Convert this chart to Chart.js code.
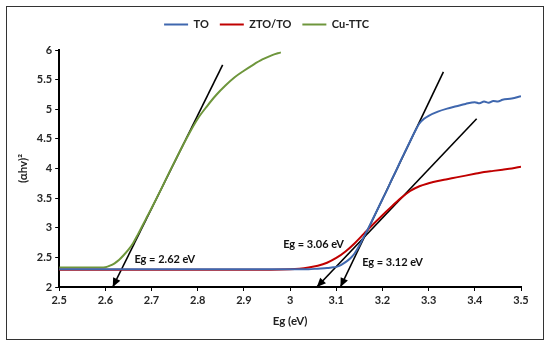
<!DOCTYPE html>
<html>
<head>
<meta charset="utf-8">
<script src="https://cdn.jsdelivr.net/npm/chart.js@4.4.1/dist/chart.umd.min.js"></script>
<style>
    body { margin: 0; background: #ffffff; }
    #moldura { position: absolute; left: 6px; top: 6px; width: 536px; height: 332px; border: 1px solid #333333; }
    #grafico { position: absolute; left: 0; top: 0; }
</style>
</head>
<body>
<div id="moldura"></div>
<canvas id="grafico" width="550" height="345"></canvas>
<script>
// ==========================================
// DADOS
// ==========================================

const legendaSeries = ["TO", "ZTO/TO", "Cu-TTC"];

// TO (azul)
const egTO  = [2.50, 2.60, 2.70, 2.80, 2.90, 3.00, 3.04, 3.06, 3.08, 3.09, 3.10, 3.11, 3.12, 3.13, 3.14, 3.15, 3.16, 3.17, 3.18, 3.19, 3.20, 3.21, 3.22, 3.23, 3.24, 3.25, 3.26, 3.27, 3.28, 3.29, 3.30, 3.32, 3.34, 3.36, 3.38, 3.40, 3.41, 3.42, 3.43, 3.44, 3.45, 3.46, 3.48, 3.50];
const ahvTO = [2.30, 2.30, 2.30, 2.30, 2.30, 2.30, 2.30, 2.31, 2.32, 2.33, 2.34, 2.37, 2.42, 2.48, 2.57, 2.70, 2.85, 3.00, 3.16, 3.32, 3.48, 3.64, 3.81, 3.97, 4.14, 4.30, 4.46, 4.62, 4.76, 4.84, 4.89, 4.96, 5.01, 5.05, 5.09, 5.12, 5.10, 5.13, 5.11, 5.14, 5.13, 5.16, 5.18, 5.22];

// ZTO/TO (vermelho)
const egZTO  = [2.50, 2.60, 2.70, 2.80, 2.90, 3.00, 3.02, 3.04, 3.06, 3.08, 3.10, 3.12, 3.14, 3.16, 3.18, 3.20, 3.22, 3.24, 3.26, 3.28, 3.30, 3.32, 3.34, 3.36, 3.38, 3.40, 3.42, 3.44, 3.46, 3.48, 3.50];
const ahvZTO = [2.29, 2.29, 2.29, 2.29, 2.29, 2.30, 2.31, 2.33, 2.36, 2.41, 2.49, 2.60, 2.74, 2.90, 3.06, 3.21, 3.36, 3.50, 3.62, 3.70, 3.75, 3.79, 3.82, 3.85, 3.88, 3.91, 3.94, 3.96, 3.98, 4.00, 4.03];

// Cu-TTC (verde)
const egCu  = [2.50, 2.55, 2.59, 2.60, 2.61, 2.62, 2.63, 2.64, 2.65, 2.66, 2.67, 2.68, 2.69, 2.70, 2.72, 2.74, 2.76, 2.78, 2.80, 2.82, 2.84, 2.86, 2.88, 2.90, 2.92, 2.94, 2.96, 2.98];
const ahvCu = [2.33, 2.33, 2.33, 2.335, 2.36, 2.40, 2.46, 2.54, 2.63, 2.74, 2.88, 3.03, 3.18, 3.33, 3.64, 3.96, 4.27, 4.57, 4.84, 5.05, 5.24, 5.40, 5.54, 5.65, 5.75, 5.84, 5.91, 5.96];

// Retas tangentes (topo -> ponta da seta no eixo)
const tangCuX  = [2.854, 2.616];
const tangCuY  = [5.75, 2.0];
const tangTOX  = [3.332, 3.109];
const tangTOY  = [5.63, 2.0];
const tangZTOX = [3.404, 3.058];
const tangZTOY = [4.84, 2.0];

// Ticks
const ticksX = [2.5, 2.6, 2.7, 2.8, 2.9, 3.0, 3.1, 3.2, 3.3, 3.4, 3.5];
const ticksY = [2, 2.5, 3, 3.5, 4, 4.5, 5, 5.5, 6];

// Textos Eg
const textosEg = ["Eg = 2.62 eV", "Eg = 3.06 eV", "Eg = 3.12 eV"];
const textosEgX = [2.663, 2.985, 3.156];
const textosEgY = [2.46, 2.72, 2.41];

// ==========================================
// FUNÇÕES AUXILIARES
// ==========================================

function juntarPontos(xs, ys) {
    return xs.map(function (x, i) {
        return { x: x, y: ys[i] };
    });
}

function formatarNumero(v) {
    return String(parseFloat(v.toFixed(1)));
}

const fonte = "Lato, 'Open Sans', sans-serif";

// espaço extra abaixo da legenda
const pluginMargemLegenda = {
    id: "margemLegenda",
    beforeInit: function (chart) {
        const fitOriginal = chart.legend.fit;
        chart.legend.fit = function () {
            fitOriginal.bind(chart.legend)();
            this.height += 10;
        };
    }
};

// desenha a ponta da seta no último ponto das retas
const pluginSetas = {
    id: "setas",
    afterDatasetsDraw: function (chart) {
        const ctx = chart.ctx;
        chart.data.datasets.forEach(function (ds, i) {
            if (!ds.seta) return;
            const pts = chart.getDatasetMeta(i).data;
            const p0 = pts[0], p1 = pts[pts.length - 1];
            const ang = Math.atan2(p1.y - p0.y, p1.x - p0.x);
            const comp = 9, larg = 4;
            ctx.save();
            ctx.fillStyle = "#000000";
            ctx.beginPath();
            ctx.moveTo(p1.x, p1.y);
            ctx.lineTo(p1.x - comp * Math.cos(ang) + larg * Math.sin(ang), p1.y - comp * Math.sin(ang) - larg * Math.cos(ang));
            ctx.lineTo(p1.x - comp * Math.cos(ang) - larg * Math.sin(ang), p1.y - comp * Math.sin(ang) + larg * Math.cos(ang));
            ctx.closePath();
            ctx.fill();
            ctx.restore();
        });
    }
};

// textos "Eg = ..." posicionados pelas escalas
const pluginTextos = {
    id: "textosEg",
    afterDatasetsDraw: function (chart) {
        const ctx = chart.ctx;
        const sx = chart.scales.x, sy = chart.scales.y;
        ctx.save();
        ctx.font = "bold 11px " + fonte;
        ctx.fillStyle = "#111111";
        ctx.textAlign = "left";
        ctx.textBaseline = "middle";
        textosEg.forEach(function (t, i) {
            ctx.fillText(t, sx.getPixelForValue(textosEgX[i]), sy.getPixelForValue(textosEgY[i]));
        });
        ctx.restore();
    }
};

// ==========================================
// GRÁFICO
// ==========================================

function linhaTangente(xs, ys) {
    return {
        label: "",
        data: juntarPontos(xs, ys),
        borderColor: "#000000",
        borderWidth: 1.6,
        pointRadius: 0,
        tension: 0,
        seta: true
    };
}

new Chart(document.getElementById("grafico"), {
    type: "line",
    data: {
        datasets: [
            {
                label: legendaSeries[0],
                data: juntarPontos(egTO, ahvTO),
                borderColor: "#3F67AE",
                backgroundColor: "#3F67AE",
                borderWidth: 2,
                pointRadius: 0,
                cubicInterpolationMode: "monotone"
            },
            {
                label: legendaSeries[1],
                data: juntarPontos(egZTO, ahvZTO),
                borderColor: "#C00000",
                backgroundColor: "#C00000",
                borderWidth: 2,
                pointRadius: 0,
                cubicInterpolationMode: "monotone"
            },
            {
                label: legendaSeries[2],
                data: juntarPontos(egCu, ahvCu),
                borderColor: "#6E963C",
                backgroundColor: "#6E963C",
                borderWidth: 2,
                pointRadius: 0,
                cubicInterpolationMode: "monotone"
            },
            linhaTangente(tangCuX, tangCuY),
            linhaTangente(tangTOX, tangTOY),
            linhaTangente(tangZTOX, tangZTOY)
        ]
    },
    options: {
        responsive: false,
        animation: false,
        devicePixelRatio: 1,
        layout: { padding: { left: 12, right: 29, top: 8, bottom: 13 } },
        plugins: {
            legend: {
                position: "top",
                labels: {
                    filter: function (item) { return item.text !== ""; },
                    usePointStyle: true,
                    pointStyle: "line",
                    pointStyleWidth: 24,
                    boxHeight: 2,
                    padding: 11,
                    color: "#222222",
                    font: { family: fonte, size: 11, weight: "bold" }
                }
            },
            tooltip: { enabled: false }
        },
        scales: {
            x: {
                type: "linear",
                min: 2.5,
                max: 3.5,
                afterBuildTicks: function (axis) {
                    axis.ticks = ticksX.map(function (v) { return { value: v }; });
                },
                ticks: {
                    autoSkip: false,
                    maxRotation: 0,
                    color: "#262626",
                    font: { family: fonte, size: 11, weight: "bold" },
                    callback: function (v) { return formatarNumero(v); }
                },
                grid: { drawOnChartArea: false, color: "#000000", tickLength: 4 },
                border: { color: "#000000", width: 2 },
                title: {
                    display: true,
                    text: "Eg (eV)",
                    color: "#222222",
                    font: { family: fonte, size: 11.5, weight: "bold" }
                }
            },
            y: {
                type: "linear",
                min: 2,
                max: 6,
                afterBuildTicks: function (axis) {
                    axis.ticks = ticksY.map(function (v) { return { value: v }; });
                },
                ticks: {
                    color: "#262626",
                    font: { family: fonte, size: 11, weight: "bold" },
                    callback: function (v) { return formatarNumero(v); }
                },
                grid: { drawOnChartArea: false, color: "#000000", tickLength: 4 },
                border: { color: "#000000", width: 2 },
                title: {
                    display: true,
                    text: "(αhv)²",
                    color: "#222222",
                    font: { family: fonte, size: 11.5, weight: "bold" }
                }
            }
        }
    },
    plugins: [pluginMargemLegenda, pluginSetas, pluginTextos]
});
</script>
</body>
</html>
